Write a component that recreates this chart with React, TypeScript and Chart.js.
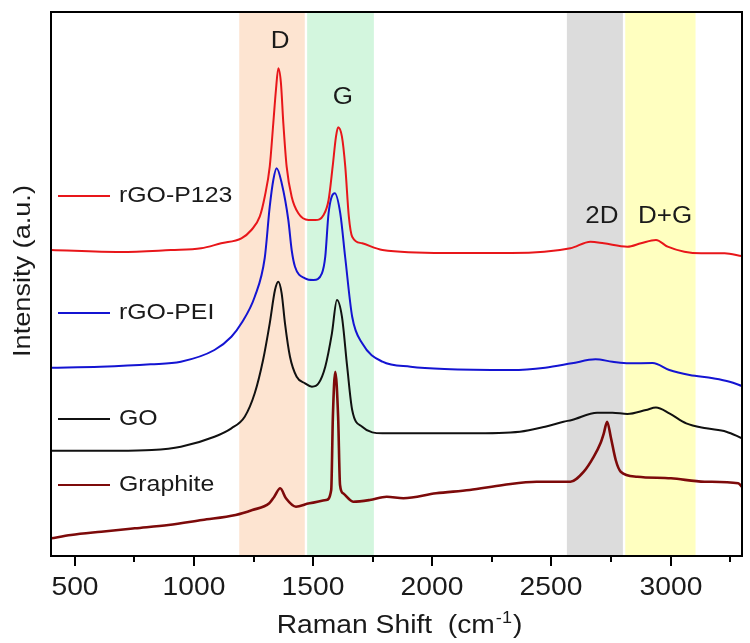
import { useEffect, useRef } from "react";
import { Chart, registerables } from "chart.js";

Chart.register(...registerables);

// ---- axis range / ticks (cm^-1) ----
const X_MIN = 400;
const X_MAX = 3300;
const Y_MIN = 0;
const Y_MAX = 544;
const majorTicks = [500, 1000, 1500, 2000, 2500, 3000];
const minorTicks = [750, 1250, 1750, 2250, 2750, 3250];

// ---- series ----
const seriesNames = ["rGO-P123", "rGO-PEI", "GO", "Graphite"];

const p123Shift = [400, 692, 903, 1030, 1114, 1199, 1241, 1276, 1297, 1318, 1333, 1344, 1354, 1365, 1375, 1389, 1410, 1438, 1481, 1509, 1544, 1565, 1582, 1596, 1605, 1621, 1635, 1650, 1664, 1706, 1791, 2051, 2333, 2580, 2664, 2720, 2819, 2876, 2939, 2988, 3058, 3128, 3227, 3300];
const p123Int = [306, 304, 306, 307.7, 312.7, 317.7, 326, 339.3, 359.3, 389.3, 433, 466, 487.7, 473, 433, 389.3, 359.3, 342.7, 336, 336, 341, 356, 389.3, 419.3, 428.7, 419.3, 389.3, 339.3, 319.3, 312.7, 306, 303, 303, 307.7, 314.3, 312.7, 309.3, 312.7, 316, 309.3, 304.3, 302.7, 302.7, 300];

const peiShift = [400, 607, 818, 945, 1086, 1157, 1199, 1255, 1297, 1318, 1333, 1347, 1368, 1396, 1410, 1424, 1466, 1502, 1537, 1551, 1565, 1591, 1614, 1635, 1664, 1706, 1791, 1909, 2051, 2333, 2474, 2586, 2685, 2756, 2826, 2925, 2995, 3080, 3178, 3248, 3300];
const peiInt = [188.3, 189.3, 191.7, 194.3, 206, 219.3, 232.7, 259.3, 298, 349.3, 376, 387.7, 373, 336, 306, 289.3, 277.7, 276, 282.7, 299.3, 343, 362.7, 342.7, 298, 239.3, 212.7, 194.3, 189.3, 187, 186, 188.3, 192.7, 196.7, 194.3, 192.7, 193, 186, 181, 177.7, 174.3, 170];

const goShift = [400, 679, 823, 945, 1086, 1157, 1213, 1255, 1290, 1318, 1340, 1354, 1368, 1382, 1403, 1431, 1466, 1495, 1523, 1551, 1579, 1600, 1621, 1643, 1664, 1706, 1791, 1909, 2157, 2368, 2474, 2551, 2586, 2692, 2756, 2819, 2897, 2939, 2995, 3066, 3150, 3234, 3300];
const goInt = [105.3, 105.3, 106, 109.3, 119.3, 127.7, 139.3, 162.7, 196, 232.7, 266, 274.3, 262.7, 232.7, 199.3, 179.3, 172.7, 169.3, 172.7, 189.3, 222.7, 256, 239.3, 189.3, 146, 129.3, 122.7, 122.7, 122.7, 124.3, 129.3, 134.3, 136, 143.3, 143.3, 142, 146, 148.5, 142.7, 132.7, 127.7, 124.3, 117.7];

const graphiteShift = [400, 484, 611, 752, 893, 1034, 1175, 1245, 1316, 1337, 1362, 1386, 1428, 1485, 1555, 1576, 1583, 1593, 1605, 1613, 1626, 1668, 1738, 1809, 1879, 2016, 2157, 2298, 2438, 2580, 2636, 2678, 2706, 2720, 2734, 2749, 2770, 2791, 2861, 3002, 3143, 3284, 3300];
const graphiteInt = [17.7, 21, 24.3, 27.7, 31, 36, 41, 46, 52.7, 59.3, 67.7, 57.7, 49.3, 52.7, 56, 66, 139.3, 184.3, 139.3, 71, 62.7, 54.3, 56, 59.3, 57.7, 62.7, 66, 71, 74.3, 74.3, 84.3, 99.3, 112.7, 122.7, 134.3, 119.3, 96, 84.3, 79.3, 77.7, 74.3, 72.7, 69.3];

// ---- shaded bands (cm^-1) ----
const bandStart = [1190, 1475, 2565, 2810];
const bandEnd = [1465, 1755, 2800, 3105];

// ---- peak labels ----
const peakLabels = ["D", "G", "2D", "D+G"];
const peakShift = [1362, 1625, 2712, 2977];
const peakLevel = [514, 458, 339, 339];

// ---- styles ----
const FONT = '"Liberation Sans", Arial, Helvetica, sans-serif';
const SX = 1.13;
const seriesColors = ["#e8161a", "#1414d2", "#111111", "#7d0a0a"];
const seriesWidths = [2, 2, 2, 2.6];
const bandColors = ["#fde4d1", "#d3f6de", "#dcdcdc", "#ffffc0"];
const legendY = [196, 313, 419, 485];

function zip(xs: number[], ys: number[]) {
  return xs.map((x, i) => ({ x, y: ys[i] }));
}

function drawText(
  ctx: CanvasRenderingContext2D,
  text: string,
  x: number,
  y: number,
  size: number,
  align: CanvasTextAlign,
  baseline: CanvasTextBaseline,
  rotate = 0
) {
  ctx.save();
  ctx.translate(x, y);
  if (rotate) ctx.rotate(rotate);
  ctx.scale(SX, 1);
  ctx.font = `${size}px ${FONT}`;
  ctx.fillStyle = "#1a1a1a";
  ctx.textAlign = align;
  ctx.textBaseline = baseline;
  ctx.fillText(text, 0, 0);
  ctx.restore();
}

const decorPlugin = {
  id: "decor",
  beforeDatasetsDraw(chart: any) {
    const { ctx, chartArea, scales } = chart;
    const xs = scales.x;
    ctx.save();
    bandStart.forEach((s, i) => {
      const x1 = xs.getPixelForValue(s);
      const x2 = xs.getPixelForValue(bandEnd[i]);
      ctx.fillStyle = bandColors[i];
      ctx.fillRect(x1, chartArea.top, x2 - x1, chartArea.bottom - chartArea.top);
    });
    ctx.restore();
  },
  afterDraw(chart: any) {
    const { ctx, chartArea, scales } = chart;
    const xs = scales.x;
    const ys = scales.y;
    const { left, right, top, bottom } = chartArea;
    ctx.save();
    // frame
    ctx.strokeStyle = "#000";
    ctx.lineWidth = 2;
    ctx.strokeRect(left, top, right - left, bottom - top);
    // ticks
    majorTicks.forEach((v) => {
      const x = Math.round(xs.getPixelForValue(v));
      ctx.beginPath();
      ctx.moveTo(x, bottom);
      ctx.lineTo(x, bottom + 10);
      ctx.stroke();
      drawText(ctx, String(v), x, bottom + 39, 25, "center", "alphabetic");
    });
    minorTicks.forEach((v) => {
      const x = Math.round(xs.getPixelForValue(v));
      ctx.beginPath();
      ctx.moveTo(x, bottom);
      ctx.lineTo(x, bottom + 6);
      ctx.stroke();
    });
    // x title with superscript
    const base = 633;
    ctx.font = `25px ${FONT}`;
    const t1 = "Raman Shift  (cm";
    const t3 = ")";
    const w1 = ctx.measureText(t1).width * SX;
    const w3 = ctx.measureText(t3).width * SX;
    ctx.font = `16px ${FONT}`;
    const t2 = "-1";
    const w2 = ctx.measureText(t2).width * SX;
    const cx = (left + right) / 2 + 2;
    const sx0 = cx - (w1 + w2 + w3) / 2;
    drawText(ctx, t1, sx0, base, 25, "left", "alphabetic");
    drawText(ctx, t2, sx0 + w1 + 1, base - 10, 16, "left", "alphabetic");
    drawText(ctx, t3, sx0 + w1 + w2 + 2, base, 25, "left", "alphabetic");
    // y title
    drawText(ctx, "Intensity (a.u.)", 23, 271, 24, "center", "middle", -Math.PI / 2);
    // peak labels
    peakLabels.forEach((lab, i) => {
      drawText(ctx, lab, xs.getPixelForValue(peakShift[i]), ys.getPixelForValue(peakLevel[i]), 23, "center", "middle");
    });
    // legend
    seriesNames.forEach((name, i) => {
      const y = legendY[i];
      ctx.strokeStyle = seriesColors[i];
      ctx.lineWidth = 2;
      ctx.beginPath();
      ctx.moveTo(58, y);
      ctx.lineTo(110, y);
      ctx.stroke();
      drawText(ctx, name, 119, y, 22, "left", "middle");
    });
    ctx.restore();
  },
};

export default function App() {
  const ref = useRef<HTMLCanvasElement>(null);
  useEffect(() => {
    if (!ref.current) return;
    const data = [
      zip(p123Shift, p123Int),
      zip(peiShift, peiInt),
      zip(goShift, goInt),
      zip(graphiteShift, graphiteInt),
    ];
    const chart = new Chart(ref.current, {
      type: "line",
      data: {
        datasets: seriesNames.map((name, i) => ({
          label: name,
          data: data[i],
          borderColor: seriesColors[i],
          borderWidth: seriesWidths[i],
          pointRadius: 0,
          fill: false,
          cubicInterpolationMode: "monotone" as const,
        })),
      },
      options: {
        animation: false,
        responsive: false,
        layout: { padding: { left: 51, top: 12, right: 8, bottom: 87 } },
        plugins: { legend: { display: false }, tooltip: { enabled: false } },
        scales: {
          x: { type: "linear", min: X_MIN, max: X_MAX, display: false },
          y: { type: "linear", min: Y_MIN, max: Y_MAX, display: false },
        },
      },
      plugins: [decorPlugin],
    });
    return () => chart.destroy();
  }, []);
  return (
    <div style={{ position: "absolute", left: 0, top: 0, width: 750, height: 643, background: "#fff" }}>
      <canvas ref={ref} width={750} height={643} />
    </div>
  );
}
